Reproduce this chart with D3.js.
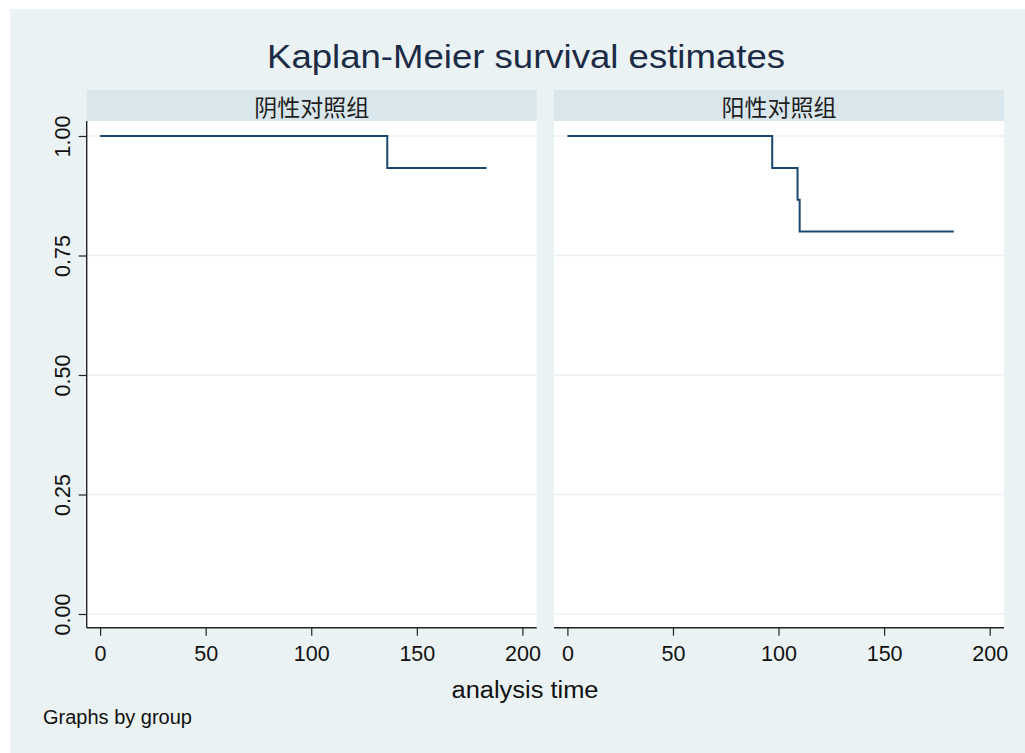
<!DOCTYPE html>
<html>
<head>
<meta charset="utf-8">
<script src="https://cdn.jsdelivr.net/npm/d3@7"></script>
<style>
  body { margin: 0; background: #fff; }
  svg { display: block; font-family: "Liberation Sans", Arial, sans-serif; }
</style>
</head>
<body>
<div id="chart"></div>
<script>
// Data
const groups = ["阴性对照组", "阳性对照组"];
const negTimes = [0, 136, 183];
const negSurv = [1, 0.9333, 0.9333];
const posTimes = [0, 97, 109, 110, 183];
const posSurv = [1, 0.9333, 0.8667, 0.8, 0.8];
const xTicks = [0, 50, 100, 150, 200];
const yTicks = [0, 0.25, 0.5, 0.75, 1];
const title = "Kaplan-Meier survival estimates";
const xTitle = "analysis time";
const note = "Graphs by group";

const series = [
    negTimes.map((t, i) => ({ t: t, s: negSurv[i] })),
    posTimes.map((t, i) => ({ t: t, s: posSurv[i] }))
];

const W = 1025, H = 753;
const bg = "#EAF2F3", stripFill = "#D9E6EB", lineColor = "#1a476f", axisColor = "#222";

const svg = d3.select("#chart").append("svg")
    .attr("width", W)
    .attr("height", H);

svg.append("rect").attr("width", W).attr("height", H).attr("fill", "#fff");
svg.append("rect").attr("x", 10).attr("y", 9).attr("width", W - 10).attr("height", H - 9).attr("fill", bg);

// Title
svg.append("text")
    .attr("x", 526).attr("y", 68)
    .attr("text-anchor", "middle")
    .attr("font-size", 34)
    .attr("fill", "#1c2b45")
    .attr("textLength", 518)
    .attr("lengthAdjust", "spacingAndGlyphs")
    .text(title);

// Panels
const panelLeft = [86.7, 554];
const panelW = 450;
const stripTop = 90, plotTop = 121, plotBottom = 627.7;

const y = d3.scaleLinear().domain([0, 1]).range([614, 136]);

groups.forEach((g, i) => {
    const px = panelLeft[i];
    const x = d3.scaleLinear().domain([0, 200]).range([px + 13.4, px + 435.7]);
    const p = svg.append("g");

    // strip
    p.append("rect")
        .attr("x", px).attr("y", stripTop)
        .attr("width", panelW).attr("height", plotTop - stripTop)
        .attr("fill", stripFill);
    p.append("text")
        .attr("x", px + panelW / 2).attr("y", 106)
        .attr("text-anchor", "middle")
        .attr("dominant-baseline", "central")
        .attr("font-family", "'Noto Sans CJK SC', sans-serif")
        .attr("font-size", 23)
        .attr("fill", "#1e1e1e")
        .text(g);

    // plot region
    p.append("rect")
        .attr("x", px).attr("y", plotTop)
        .attr("width", panelW).attr("height", plotBottom - plotTop)
        .attr("fill", "#fff");

    // grid
    p.selectAll(".grid")
        .data(yTicks).enter().append("line")
        .attr("x1", px).attr("x2", px + panelW)
        .attr("y1", d => y(d)).attr("y2", d => y(d))
        .attr("stroke", bg)
        .attr("stroke-width", 1.5);

    // x axis
    const xAxis = p.append("g")
        .attr("transform", `translate(0,${plotBottom})`)
        .call(d3.axisBottom(x).tickValues(xTicks).tickSize(8).tickPadding(10).tickFormat(d3.format("d")));
    xAxis.select(".domain").remove();
    xAxis.append("line")
        .attr("x1", px).attr("x2", px + panelW)
        .attr("stroke", axisColor).attr("stroke-width", 1.4);
    xAxis.selectAll(".tick line").attr("stroke", axisColor).attr("stroke-width", 1.2);
    xAxis.selectAll(".tick text")
        .attr("font-family", "'Liberation Sans', Arial, sans-serif")
        .attr("font-size", 21.5)
        .attr("fill", "#111");

    // y axis only in first panel
    if (i === 0) {
        const yAxis = p.append("g")
            .attr("transform", `translate(${px},0)`)
            .call(d3.axisLeft(y).tickValues(yTicks).tickSize(8).tickFormat(d3.format(".2f")));
        yAxis.select(".domain").remove();
        yAxis.append("line")
            .attr("y1", plotTop).attr("y2", plotBottom)
            .attr("stroke", axisColor).attr("stroke-width", 1.4);
        yAxis.selectAll(".tick line").attr("stroke", axisColor).attr("stroke-width", 1.2);
        yAxis.selectAll(".tick text")
            .attr("font-family", "'Liberation Sans', Arial, sans-serif")
            .attr("font-size", 21.5)
            .attr("fill", "#111")
            .attr("x", null).attr("dy", null)
            .attr("text-anchor", "middle")
            .attr("transform", "translate(-17,0) rotate(-90)");
    }

    // KM curve
    const line = d3.line()
        .curve(d3.curveStepAfter)
        .x(d => x(d.t))
        .y(d => y(d.s));
    p.append("path")
        .datum(series[i])
        .attr("fill", "none")
        .attr("stroke", lineColor)
        .attr("stroke-width", 2)
        .attr("d", line);
});

// Axis title and note
svg.append("text")
    .attr("x", 525).attr("y", 698)
    .attr("text-anchor", "middle")
    .attr("font-size", 23)
    .attr("fill", "#111")
    .attr("textLength", 147)
    .attr("lengthAdjust", "spacingAndGlyphs")
    .text(xTitle);

svg.append("text")
    .attr("x", 43).attr("y", 724)
    .attr("font-size", 20)
    .attr("fill", "#111")
    .text(note);
</script>
</body>
</html>
